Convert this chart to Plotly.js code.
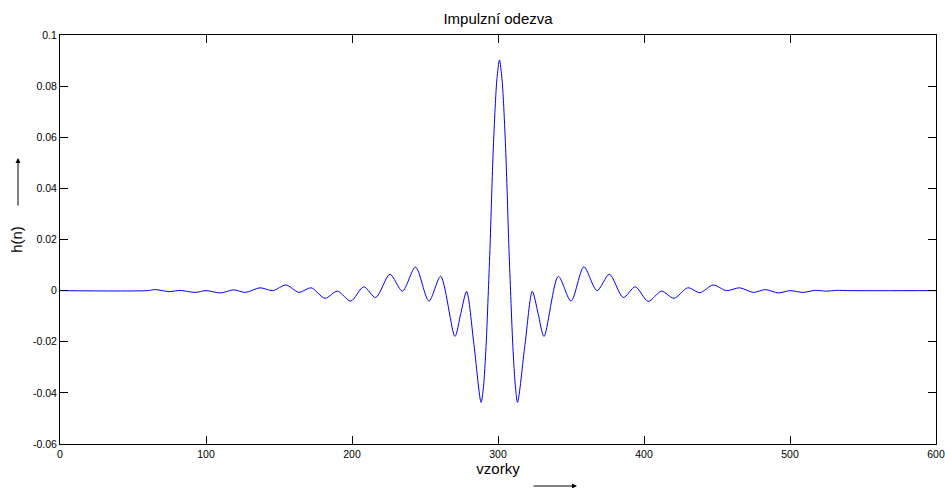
<!DOCTYPE html>
<html>
<head>
<meta charset="utf-8">
<script src="https://cdn.plot.ly/plotly-3.0.1.min.js"></script>
<style>html,body{margin:0;padding:0;background:#fff;}#chart{width:945px;height:488px;}</style>
</head>
<body>
<div id="chart"></div>
<script>
// sample index (vzorky)
const samples = [0, 60, 65, 75, 82, 92.5, 100, 110, 119, 127, 137, 145.7, 154.8, 163.7, 172, 181.5, 190, 199.1, 208, 216.2, 226, 234.5, 243.5, 252.7, 260.7, 270.5, 274.5, 278.5, 283.5, 288.4, 290, 291.8, 293.4, 294.6, 295.7, 296.8, 298.2, 299.3, 301,
  302.7, 303.8, 305.2, 306.3, 307.4, 308.6, 310.2, 312, 313.4, 318.5, 323.5, 327.5, 331.5, 341.3, 350, 358.8, 367.8, 376.3, 385.8, 394, 402.9, 412, 420.5, 430, 438.4, 447.3, 456.5, 465.5, 475, 483, 492, 500, 509, 517, 525, 532, 541, 600];
// impulse response h(n)
const hn = [0, 0, 0.0004, -0.0004, 0.0001, -0.0007, 0, -0.0009, 0.0003, -0.0007, 0.0011, 0.0000, 0.0022, -0.0007, 0.0011, -0.003, -0.0002, -0.0041, 0.0015, -0.0027, 0.0064, -0.0002, 0.0092, -0.0041, 0.0056, -0.0179, -0.009, -0.0003, -0.021, -0.0437, -0.038, -0.022, 0, 0.018, 0.038, 0.056, 0.0733, 0.083, 0.0902,
  0.083, 0.0733, 0.056, 0.038, 0.018, 0, -0.022, -0.038, -0.0437, -0.021, -0.0003, -0.009, -0.0179, 0.0056, -0.0041, 0.0093, 0, 0.0064, -0.0027, 0.0015, -0.0042, -0.0002, -0.003, 0.0011, -0.0008, 0.0022, 0, 0.0011, -0.0007, 0.0004, -0.0009, 0, -0.0007, 0.0001, -0.0002, 0.0001, 0, 0];

const xTicks = [0, 100, 200, 300, 400, 500, 600];
const xTickText = ['0', '100', '200', '300', '400', '500', '600'];
const yTicks = [-0.06, -0.04, -0.02, 0, 0.02, 0.04, 0.06, 0.08, 0.1];
const yTickText = ['-0.06', '-0.04', '-0.02', '0', '0.02', '0.04', '0.06', '0.08', '0.1'];

const font = 'Arial, "Liberation Sans", Helvetica, sans-serif';

const trace = {
  x: samples, y: hn, type: 'scatter', mode: 'lines',
  line: {color: 'rgb(0,0,255)', width: 1, shape: 'spline', smoothing: 0.8},
  hoverinfo: 'skip'
};

const axisCommon = {
  showgrid: false, zeroline: false, showline: true, mirror: 'ticks',
  linecolor: '#000', linewidth: 1, ticks: 'inside', ticklen: 8, tickwidth: 1, tickcolor: '#000',
  tickfont: {family: font, size: 10.5, color: '#000'}, tickmode: 'array'
};

const layout = {
  width: 945, height: 488,
  margin: {l: 60, r: 9, t: 35, b: 44},
  paper_bgcolor: '#fff', plot_bgcolor: '#fff',
  showlegend: false,
  title: {text: 'Impulzní odezva', font: {family: font, size: 15, color: '#000'}, x: 0.5, xref: 'paper', y: 1 - 19/488, yref: 'container', yanchor: 'middle'},
  xaxis: Object.assign({}, axisCommon, {range: [0, 600], tickvals: xTicks, ticktext: xTickText,
    title: {text: 'vzorky', font: {family: font, size: 15, color: '#000'}, standoff: 1}}),
  yaxis: Object.assign({}, axisCommon, {range: [-0.06, 0.1], tickvals: yTicks, ticktext: yTickText,
    title: {text: 'h(n)', font: {family: font, size: 15, color: '#000'}, standoff: 6}}),
  annotations: [
    {xref: 'paper', yref: 'paper', x: (18 - 60) / 876, y: (444 - 158) / 409, ax: 0, ay: 49, axref: 'pixel', ayref: 'pixel',
     text: '', showarrow: true, arrowhead: 2, arrowsize: 1, arrowwidth: 1, arrowcolor: '#000'},
    {xref: 'paper', yref: 'paper', x: (577 - 60) / 876, y: (444 - 486) / 409, ax: -45, ay: 0, axref: 'pixel', ayref: 'pixel',
     text: '', showarrow: true, arrowhead: 2, arrowsize: 1, arrowwidth: 1, arrowcolor: '#000'}
  ]
};

Plotly.newPlot('chart', [trace], layout, {displayModeBar: false, staticPlot: true});
</script>
</body>
</html>
